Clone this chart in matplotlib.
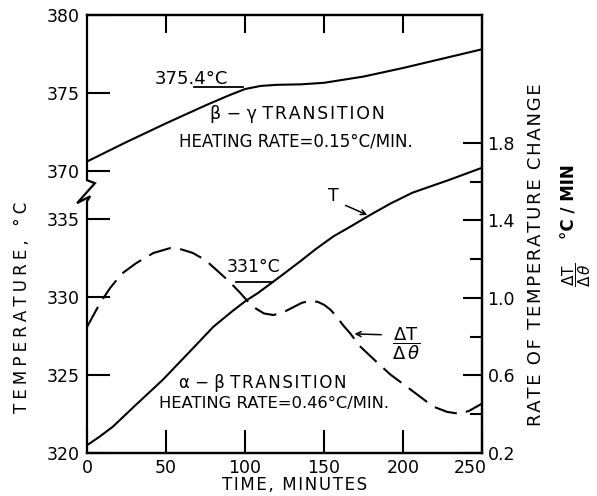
import matplotlib
matplotlib.use('Agg')
import matplotlib.pyplot as plt
from matplotlib.ticker import FixedLocator
from matplotlib.transforms import ScaledTranslation

plt.rcParams['font.family'] = ['DejaVu Sans']
plt.rcParams['mathtext.fontset'] = 'dejavusans'

# ---------------- data ----------------
# beta-gamma transition, temperature (upper segment of broken axis)
time_upper = [0, 25, 50, 75, 90, 100, 110, 120, 135, 150, 175, 200, 225, 250]
temp_upper = [370.6, 371.85, 373.05, 374.2, 374.85, 375.25, 375.45, 375.52,
              375.55, 375.65, 376.05, 376.6, 377.2, 377.8]

# alpha-beta transition, temperature (lower segment)
time_lower = [0, 8, 16.5, 30, 48, 65, 80, 92, 101, 108, 114, 122, 135, 145,
              156, 168, 179, 192, 206, 230, 250]
temp_lower = [320.5, 321.05, 321.7, 323.0, 324.7, 326.5, 328.1, 329.1, 329.8,
              330.25, 330.7, 331.3, 332.3, 333.1, 333.9, 334.6, 335.26, 336.0,
              336.7, 337.55, 338.3]

# rate of temperature change dT/dtheta (right axis, degC/min)
time_rate = [0, 8, 14.5, 22, 31, 42, 52.5, 60, 67, 75, 82, 90, 97, 102, 107,
             112, 118, 124, 130, 136, 141, 146, 150, 154, 158, 162, 166.5,
             173, 183, 192, 206, 219, 228, 236, 242, 250]
rate = [0.85, 0.97, 1.05, 1.125, 1.179, 1.232, 1.257, 1.25, 1.232, 1.195,
        1.144, 1.085, 1.026, 0.98, 0.945, 0.92, 0.912, 0.925, 0.95, 0.975,
        0.985, 0.98, 0.965, 0.94, 0.904, 0.86, 0.818, 0.749, 0.672, 0.605,
        0.52, 0.44, 0.412, 0.402, 0.418, 0.455]

x_ticks = [0, 50, 100, 150, 200, 250]
x_minor_top = [50, 100, 150, 200]
left_tick_values = [320, 325, 330, 335, 370, 375, 380]
right_major = [0.2, 0.6, 1.0, 1.4, 1.8]
right_minor = [0.4, 0.8, 1.2, 1.6]

# broken axis: 370 degC is drawn where 338.1 would be
BREAK_SHIFT = 370 - 338.1


def to_axis(v):
    return v - BREAK_SHIFT if v >= 369 else v


def spaced(s, sp='\u200a'):
    return sp.join(s)


LW = 1.5

fig = plt.figure(figsize=(5.97, 4.96), dpi=100)
ax = fig.add_axes([87 / 597, 43 / 496, 395 / 597, 438 / 496])
ax.set_xlim(0, 250)
ax.set_ylim(320, 348.1)

ax.plot(time_upper, [to_axis(v) for v in temp_upper], color='k', lw=LW)
ax.plot(time_lower, temp_lower, color='k', lw=LW)

ax2 = ax.twinx()
ax2.set_ylim(0.2, 2.46)
ax2.plot(time_rate, rate, color='k', lw=LW, dashes=(11, 4.5))

for a in (ax, ax2):
    a.spines['left'].set_visible(False)
    for s in ('right', 'top', 'bottom'):
        a.spines[s].set_linewidth(1.6)

# left spine with break
ytr = ax.get_yaxis_transform()
ax.plot([0, 0, 0.02, -0.025, 0.008, 0, 0],
        [348.1, 337.5, 337.31, 336.03, 336.47, 336.15, 320],
        transform=ytr, color='k', lw=1.6, clip_on=False,
        solid_joinstyle='miter')

# left ticks
ax.set_yticks([to_axis(v) for v in left_tick_values])
ax.set_yticklabels([str(v) for v in left_tick_values])
ax.tick_params(axis='y', direction='in', length=16.5, width=1.5, pad=5,
               labelsize=12.5)

# x ticks
ax.set_xticks(x_ticks)
ax.set_xticklabels([str(v) for v in x_ticks])
ax.tick_params(axis='x', which='major', direction='in', length=16.5,
               width=1.5, pad=4, labelsize=12.5, top=False)
ax.xaxis.remove_overlapping_locs = False
ax.xaxis.set_minor_locator(FixedLocator(x_minor_top))
ax.tick_params(axis='x', which='minor', direction='in', top=True,
               bottom=False, length=13, width=1.5)
ax.yaxis.set_minor_locator(FixedLocator([]))

# right ticks
ax2.set_yticks(right_major)
ax2.set_yticklabels([f'{v:.1f}' for v in right_major])
ax2.set_yticks(right_minor, minor=True)
ax2.tick_params(axis='y', which='major', direction='in', length=14,
                width=1.5, pad=4, labelsize=12.5)
ax2.tick_params(axis='y', which='minor', direction='in', length=9,
                width=1.5)

# the last x label sits a little left of its tick, as in the reference
lab = ax.xaxis.get_major_ticks()[-1].label1
lab.set_transform(lab.get_transform() +
                  ScaledTranslation(-0.12, 0, fig.dpi_scale_trans))

# annotations (upper)
ax.text(65.8, to_axis(375.9), '375.4°C', ha='center', va='center',
        fontsize=13)
ax.plot([68, 99], [to_axis(375.4)] * 2, color='k', lw=1.3)
ax.text(133, to_axis(373.65), 'β − γ ' + spaced('TRANSITION'), ha='center',
        va='center', fontsize=12.5)
ax.text(132, to_axis(371.9), 'HEATING RATE=0.15°C/MIN.', ha='center',
        va='center', fontsize=12)

# annotations (lower)
ax.annotate('', xy=(179, 335.2), xytext=(162, 335.96),
            arrowprops=dict(arrowstyle='->', color='k', lw=1.1,
                            mutation_scale=9))
ax.text(155.7, 336.5, 'T', ha='center', va='center', fontsize=12.5)
ax.text(105.7, 331.92, '331°C', ha='center', va='center', fontsize=12.5)
ax.plot([94, 118], [331.0, 331.0], color='k', lw=1.3)
ax2.annotate('', xy=(167.5, 0.815), xytext=(188, 0.81),
             arrowprops=dict(arrowstyle='->', color='k', lw=1.1,
                             mutation_scale=9))
ax2.text(202, 0.765, r'$\dfrac{\Delta\mathrm{T}}{\Delta\,\theta}$',
         ha='center', va='center', fontsize=13)
ax.text(111.4, 324.49, 'α − β ' + spaced('TRANSITION'), ha='center',
        va='center', fontsize=12)
ax.text(118.4, 323.2, 'HEATING RATE=0.46°C/MIN.', ha='center',
        va='center', fontsize=11.8)

# axis titles
fig.text(22 / 597, 1 - 307 / 496, spaced('TEMPERATURE, °C', '\u2005'),
         rotation=90, ha='center', va='center', fontsize=12)
fig.text(536 / 597, 1 - 255 / 496, spaced('RATE OF TEMPERATURE CHANGE'),
         rotation=90, ha='center', va='center', fontsize=13)
fig.text(569 / 597, 1 - 202 / 496, '°C / MIN', rotation=90, ha='center',
         va='center', fontsize=12, fontweight='bold')
fig.text(577 / 597, 1 - 275 / 496,
         r'$\dfrac{\Delta\mathrm{T}}{\Delta\,\theta}$', rotation=90,
         ha='center', va='center', fontsize=11)
fig.text(295 / 597, 1 - 485 / 496, spaced('TIME, MINUTES'), ha='center',
         va='center', fontsize=12)

fig.savefig('out.png', dpi=100, facecolor='white')
